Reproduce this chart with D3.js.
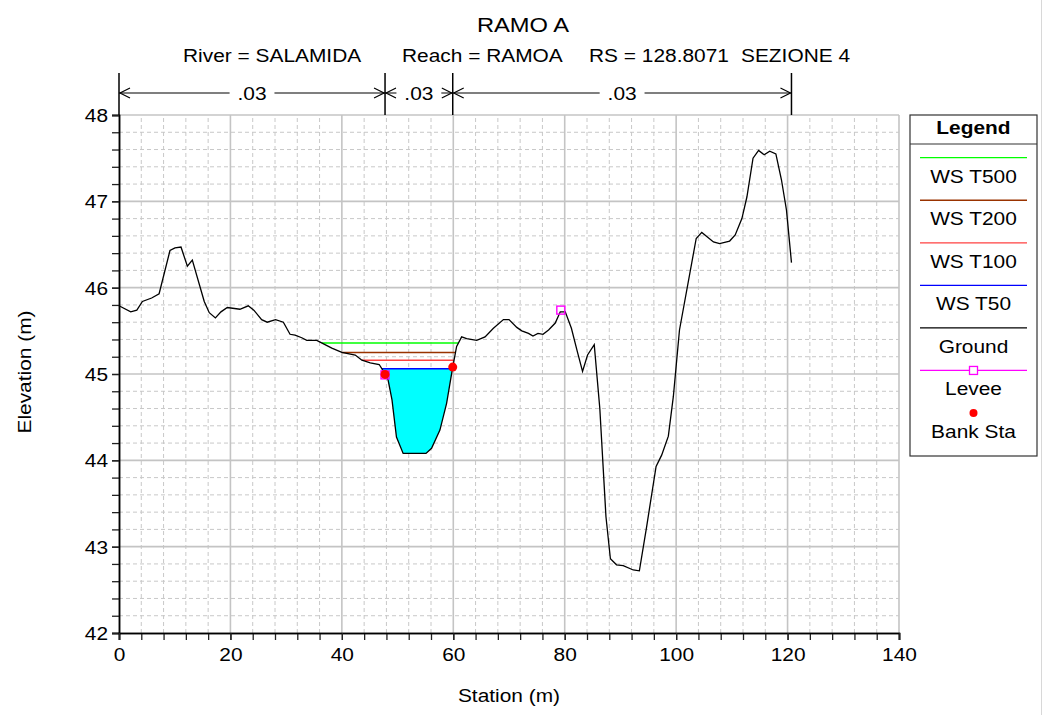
<!DOCTYPE html>
<html><head><meta charset="utf-8">
<script src="https://cdn.jsdelivr.net/npm/d3@7"></script>
<style>body{margin:0;background:#fff}svg{display:block}text{font-family:"Liberation Sans",Arial,sans-serif;fill:#000}</style>
</head><body><svg id="c" width="1046" height="715"></svg>
<script>
// ---- data ----
const groundSta = [0,2.1,3.2,4.2,5.86,7.2,9.15,10.05,11.13,12.27,13.16,15.3,16.2,17.3,18.3,19.44,21.7,23.2,24.2,25.6,26.6,28.1,29.5,30.7,31.6,32.8,33.7,35.5,36.1,38.2,40.0,42.4,43.6,45.1,46.7,47.2,48.3,49.0,49.8,51.0,55.1,56.1,57.6,58.8,59.9,60.6,61.5,62.4,64.2,65.7,67.2,69.0,70.0,71.4,72.3,73.5,74.3,75.2,76.1,77.1,78.3,79.2,80.1,81.2,82.3,83.2,84.1,85.3,86.3,87.4,88.2,89.3,90.5,92.3,93.4,94.7,96.4,97.4,98.6,99.5,100.6,103.6,104.6,106.7,107.8,109.6,110.6,111.8,112.7,113.8,114.8,115.8,116.8,117.9,118.9,119.8,120.7];
const groundElev = [45.79,45.72,45.74,45.84,45.88,45.93,46.43,46.46,46.47,46.25,46.32,45.84,45.71,45.65,45.72,45.77,45.75,45.79,45.74,45.63,45.60,45.63,45.60,45.46,45.45,45.42,45.39,45.39,45.37,45.30,45.25,45.22,45.16,45.13,45.11,45.06,44.93,44.70,44.27,44.08,44.08,44.14,44.35,44.66,45.08,45.32,45.43,45.41,45.39,45.43,45.53,45.63,45.63,45.54,45.50,45.47,45.44,45.47,45.46,45.51,45.59,45.72,45.72,45.53,45.25,45.03,45.22,45.34,44.60,43.35,42.86,42.79,42.78,42.73,42.72,43.23,43.93,44.06,44.28,44.74,45.51,46.57,46.64,46.53,46.51,46.54,46.61,46.80,47.05,47.50,47.59,47.54,47.58,47.55,47.25,46.90,46.29];
const wsNames = ["WS T500","WS T200","WS T100","WS T50"];
const wsElev = [45.36,45.25,45.16,45.06];
const wsColors = ["#00ff00","#993300","#ff4040","#0000ff"];
const bankSta = [47.75,59.9];
const leveeSta = [47.75,79.3];
const leveeElev = [44.99,45.74];
const nBreaks = [0,47.75,59.9,120.7];
const nValues = [".03",".03",".03"];
const xTicks = [0,20,40,60,80,100,120,140];
const yTicks = [42,43,44,45,46,47,48];
const legendLabels = ["WS T500","WS T200","WS T100","WS T50","Ground","Levee","Bank Sta"];
const legendColors = ["#00ff00","#993300","#ff4040","#0000ff","#000000","#ff00ff","#ff0000"];

// ---- setup ----
const SX = 1.13, FS = 18.5;
const svg = d3.select("#c");
const x = d3.scaleLinear([0,140],[119,899]);
const y = d3.scaleLinear([42,48],[633,115]);
function T(g, px, py, s, o={}) {
  const t = g.append("text")
    .attr("transform", `translate(${px},${py}) rotate(${o.rotate||0}) scale(${SX},1)`)
    .attr("text-anchor", o.anchor||"middle")
    .style("font-size", (o.size||FS)+"px")
    .style("font-weight", o.weight||"normal")
    .text(s);
  return t;
}
const ground = groundSta.map((s,i)=>[s,groundElev[i]]);
function groundAt(s){
  for(let i=1;i<ground.length;i++){
    if(s<=ground[i][0]){const a=ground[i-1],b=ground[i];return a[1]+(b[1]-a[1])*(s-a[0])/(b[0]-a[0]);}
  }
  return ground[ground.length-1][1];
}
// thalweg within bank stations
let thw = 0, minE = 1e9;
ground.forEach((p,i)=>{ if(p[0]>=bankSta[0]&&p[0]<=bankSta[1]&&p[1]<minE){minE=p[1];thw=i;} });
function extent(ws){
  let l=thw; while(l>0 && ground[l][1]<ws) l--;
  const a=ground[l], a2=ground[l+1];
  const xl = a[0]+(a2[0]-a[0])*(ws-a[1])/(a2[1]-a[1]);
  let r=thw; while(r<ground.length-1 && ground[r][1]<ws) r++;
  const b=ground[r-1], b2=ground[r];
  const xr = b[0]+(b2[0]-b[0])*(ws-b[1])/(b2[1]-b[1]);
  return [xl,xr,l,r];
}

// ---- grid ----
const grid = svg.append("g");
d3.range(0,140.01,4).forEach(v=>{
  const major = Math.abs(v%20)<1e-6;
  if(v===0) return;
  grid.append("line").attr("x1",x(v)).attr("x2",x(v)).attr("y1",y(42)).attr("y2",y(48))
    .attr("stroke",major?"#c4c4c4":"#c8c8c8").attr("stroke-width",major?1.6:1)
    .attr("stroke-dasharray",major?null:"4,3");
});
d3.range(42,48.001,0.2).forEach(v=>{
  const major = Math.abs(v-Math.round(v))<1e-6;
  if(Math.abs(v-42)<1e-6) return;
  grid.append("line").attr("x1",x(0)).attr("x2",x(140)).attr("y1",y(v)).attr("y2",y(v))
    .attr("stroke",major?"#c4c4c4":"#c8c8c8").attr("stroke-width",major?1.6:1)
    .attr("stroke-dasharray",major?null:"4,3");
});

// ---- axes ----
const yMinor = svg.append("g").attr("transform",`translate(${x(0)},0)`)
  .call(d3.axisLeft(y).tickValues(d3.range(42,48.001,0.2)).tickSize(7).tickFormat(""));
const yMajor = svg.append("g").attr("transform",`translate(${x(0)},0)`)
  .call(d3.axisLeft(y).tickValues(yTicks).tickSize(7).tickFormat(d3.format("d")));
yMajor.selectAll("text").attr("x",-11/SX).attr("dy","0.36em").attr("transform",`scale(${SX},1)`)
  .style("font-size",FS+"px").style("font-family",'"Liberation Sans",Arial,sans-serif');
const xMinor = svg.append("g").attr("transform",`translate(0,${y(42)})`)
  .call(d3.axisBottom(x).tickValues(d3.range(0,140.01,4)).tickSize(7).tickFormat(""));
const xMajor = svg.append("g").attr("transform",`translate(0,${y(42)})`)
  .call(d3.axisBottom(x).tickValues(xTicks).tickSize(7).tickFormat(d3.format("d")));
xMajor.selectAll("text").attr("y",15).attr("dy","0.71em")
  .attr("transform",function(d){return `translate(${x(d)*(1-SX)},0) scale(${SX},1)`;})
  .style("font-size",FS+"px").style("font-family",'"Liberation Sans",Arial,sans-serif');
[yMinor,yMajor,xMinor,xMajor].forEach(g=>{
  g.selectAll(".domain").attr("stroke","#000").attr("stroke-width",1.5);
  g.selectAll(".tick line").attr("stroke","#222").attr("stroke-width",1.3);
});
xMajor.selectAll("text").attr("transform",null);
xMajor.selectAll(".tick text").each(function(){
  d3.select(this).attr("transform",`scale(${SX},1)`);
});

// ---- cyan fill for lowest WS ----
const ws50 = wsElev[3];
const [fl,fr,il,ir] = extent(ws50);
const fillPts = [[fl,ws50]].concat(ground.slice(il+1,ir)).concat([[fr,ws50]]);
svg.append("path").datum(fillPts)
  .attr("d", d3.area().x(d=>x(d[0])).y0(y(ws50)).y1(d=>y(Math.min(d[1],ws50))))
  .attr("fill","#00ffff");

// ---- water surfaces ----
wsElev.forEach((w,i)=>{
  const [xl,xr] = extent(w);
  svg.append("line").attr("x1",x(xl)).attr("x2",x(xr)).attr("y1",y(w)).attr("y2",y(w))
    .attr("stroke",wsColors[i]).attr("stroke-width",1.5);
});

// ---- ground ----
svg.append("path").datum(ground)
  .attr("d", d3.line().x(d=>x(d[0])).y(d=>y(d[1])))
  .attr("fill","none").attr("stroke","#000").attr("stroke-width",1.3);

// ---- levees ----
leveeSta.forEach((s,i)=>{
  svg.append("rect").attr("x",x(s)-4).attr("y",y(leveeElev[i])-4).attr("width",8).attr("height",8)
    .attr("fill","none").attr("stroke","#ff00ff").attr("stroke-width",1.4);
});
// ---- bank stations ----
bankSta.forEach(s=>{
  svg.append("circle").attr("cx",x(s)).attr("cy",y(groundAt(s))).attr("r",4.5).attr("fill","#ff0000");
});

// ---- n values ----
const nY = 93, nTop = 73;
const ng = svg.append("g");
nBreaks.forEach(s=>{
  ng.append("line").attr("x1",x(s)).attr("x2",x(s)).attr("y1",nTop).attr("y2",y(48)).attr("stroke","#000").attr("stroke-width",1.5);
});
for(let i=0;i<nValues.length;i++){
  const a=x(nBreaks[i]), b=x(nBreaks[i+1]);
  ng.append("line").attr("x1",a).attr("x2",b).attr("y1",nY).attr("y2",nY).attr("stroke","#000").attr("stroke-width",1.2);
  ng.append("path").attr("d",`M${a+11},${nY-5}L${a+1},${nY}L${a+11},${nY+5}`).attr("fill","none").attr("stroke","#000").attr("stroke-width",1.2);
  ng.append("path").attr("d",`M${b-11},${nY-5}L${b-1},${nY}L${b-11},${nY+5}`).attr("fill","none").attr("stroke","#000").attr("stroke-width",1.2);
  const c=(a+b)/2;
  const w = 30*SX*FS/18.5*0.0+ (nValues[i].length*0.556*FS*SX) - 0.278*FS*SX*0 ;
  ng.append("rect").attr("x",c-w/2-5).attr("y",nY-8).attr("width",w+10).attr("height",16).attr("fill","#fff");
  T(ng,c,nY+6.7,nValues[i]);
}

// ---- titles ----
T(svg,523,31.7,"RAMO A",{size:21});
T(svg,183,61.7,"River = SALAMIDA",{anchor:"start"});
T(svg,402,61.7,"Reach = RAMOA",{anchor:"start"});
T(svg,589,61.7,"RS = 128.8071",{anchor:"start"});
T(svg,741,61.7,"SEZIONE 4",{anchor:"start"});
T(svg,509,702,"Station (m)");
T(svg,31,372,"Elevation (m)",{rotate:-90});

// ---- legend ----
const lg = svg.append("g");
lg.append("rect").attr("x",910).attr("y",115).attr("width",127).attr("height",341).attr("fill","#fff").attr("stroke","#333").attr("stroke-width",1.2);
lg.append("line").attr("x1",910).attr("x2",1037).attr("y1",144).attr("y2",144).attr("stroke","#333").attr("stroke-width",1.2);
T(lg,973.5,134,"Legend",{weight:"bold"});
legendLabels.forEach((lab,i)=>{
  const ly = 157.7 + i*42.55;
  if(i<6) lg.append("line").attr("x1",920).attr("x2",1027).attr("y1",ly).attr("y2",ly).attr("stroke",legendColors[i]).attr("stroke-width",1.3);
  if(i===5) lg.append("rect").attr("x",969.5).attr("y",ly-4).attr("width",8).attr("height",8).attr("fill","#fff").attr("stroke","#ff00ff").attr("stroke-width",1.3);
  if(i===6) lg.append("circle").attr("cx",973.5).attr("cy",ly).attr("r",4).attr("fill","#ff0000");
  T(lg,973.5,ly+25,lab);
});
// right window edge
svg.append("line").attr("x1",1041.5).attr("x2",1041.5).attr("y1",0).attr("y2",715).attr("stroke","#d8d8d8");
</script></body></html>
